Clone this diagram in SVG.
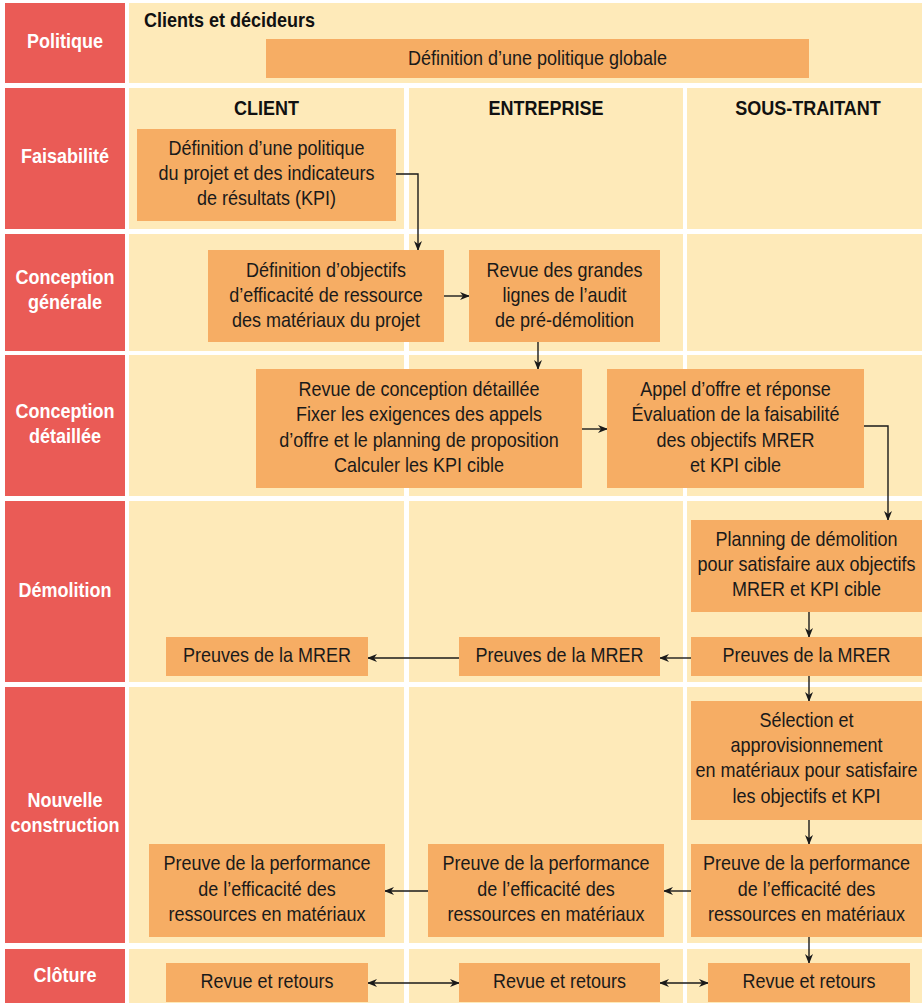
<svg xmlns="http://www.w3.org/2000/svg" width="922" height="1003" viewBox="0 0 922 1003">
<style>
.bg{fill:#ffffff}
.lab{fill:#EA5B56}
.lane{fill:#FEEAB9}
.box{fill:#F6AD64}
.lt{font-family:"Liberation Sans",Arial,sans-serif;font-weight:bold;font-size:20px;fill:#ffffff;text-anchor:middle}
.hd{font-family:"Liberation Sans",Arial,sans-serif;font-weight:bold;font-size:20px;fill:#111111;text-anchor:middle}
.t{font-family:"Liberation Sans",Arial,sans-serif;font-size:20px;fill:#1a1a1a;text-anchor:middle}
.c{fill:none;stroke:#1a1a1a;stroke-width:1.4}
</style>
<defs>
<marker id="ah" markerWidth="10" markerHeight="8" refX="9" refY="4" orient="auto-start-reverse" markerUnits="userSpaceOnUse">
<path d="M0,0 L10,4 L0,8 L3,4 z" fill="#1a1a1a"/>
</marker>
</defs>
<rect class="bg" x="0" y="0" width="922" height="1003"/>

<g id="lanes">
<rect class="lab" x="5" y="3" width="120" height="80"/>
<rect class="lab" x="5" y="88" width="120" height="141"/>
<rect class="lab" x="5" y="234" width="120" height="117"/>
<rect class="lab" x="5" y="355" width="120" height="141"/>
<rect class="lab" x="5" y="501" width="120" height="181"/>
<rect class="lab" x="5" y="687" width="120" height="256"/>
<rect class="lab" x="5" y="949" width="120" height="54"/>
<rect class="lane" x="129" y="3" width="793" height="80"/>
<rect class="lane" x="129" y="88" width="275" height="141"/>
<rect class="lane" x="409" y="88" width="274" height="141"/>
<rect class="lane" x="687" y="88" width="235" height="141"/>
<rect class="lane" x="129" y="234" width="275" height="117"/>
<rect class="lane" x="409" y="234" width="274" height="117"/>
<rect class="lane" x="687" y="234" width="235" height="117"/>
<rect class="lane" x="129" y="355" width="275" height="141"/>
<rect class="lane" x="409" y="355" width="274" height="141"/>
<rect class="lane" x="687" y="355" width="235" height="141"/>
<rect class="lane" x="129" y="501" width="275" height="181"/>
<rect class="lane" x="409" y="501" width="274" height="181"/>
<rect class="lane" x="687" y="501" width="235" height="181"/>
<rect class="lane" x="129" y="687" width="275" height="256"/>
<rect class="lane" x="409" y="687" width="274" height="256"/>
<rect class="lane" x="687" y="687" width="235" height="256"/>
<rect class="lane" x="129" y="949" width="275" height="54"/>
<rect class="lane" x="409" y="949" width="274" height="54"/>
<rect class="lane" x="687" y="949" width="235" height="54"/>
<text class="lt" transform="matrix(.9 0 0 1 65 0)" y="48">Politique</text>
<text class="lt" transform="matrix(.9 0 0 1 65 0)" y="163">Faisabilité</text>
<text class="lt" transform="matrix(.9 0 0 1 65 0)" y="284">Conception</text>
<text class="lt" transform="matrix(.9 0 0 1 65 0)" y="309">générale</text>
<text class="lt" transform="matrix(.9 0 0 1 65 0)" y="418">Conception</text>
<text class="lt" transform="matrix(.9 0 0 1 65 0)" y="443">détaillée</text>
<text class="lt" transform="matrix(.9 0 0 1 65 0)" y="597">Démolition</text>
<text class="lt" transform="matrix(.9 0 0 1 65 0)" y="807">Nouvelle</text>
<text class="lt" transform="matrix(.9 0 0 1 65 0)" y="832">construction</text>
<text class="lt" transform="matrix(.9 0 0 1 65 0)" y="982">Clôture</text>
<text class="hd" transform="matrix(.9 0 0 1 144 0)" y="27" style="text-anchor:start">Clients et décideurs</text>
<text class="hd" transform="matrix(.9 0 0 1 266.5 0)" y="115">CLIENT</text>
<text class="hd" transform="matrix(.9 0 0 1 546 0)" y="115">ENTREPRISE</text>
<text class="hd" transform="matrix(.9 0 0 1 808 0)" y="115">SOUS-TRAITANT</text>
</g>

<g id="connectors">
<polyline class="c" points="396,174 418,174 418,250" marker-end="url(#ah)"/>
<line class="c" x1="444" y1="296" x2="469" y2="296" marker-end="url(#ah)"/>
<line class="c" x1="538" y1="342" x2="538" y2="369" marker-end="url(#ah)"/>
<line class="c" x1="582" y1="429" x2="607" y2="429" marker-end="url(#ah)"/>
<polyline class="c" points="864,426 888,426 888,520" marker-end="url(#ah)"/>
<line class="c" x1="809" y1="612" x2="809" y2="637" marker-end="url(#ah)"/>
<line class="c" x1="691" y1="658" x2="660" y2="658" marker-end="url(#ah)"/>
<line class="c" x1="459" y1="658" x2="368" y2="658" marker-end="url(#ah)"/>
<line class="c" x1="809" y1="676" x2="809" y2="701" marker-end="url(#ah)"/>
<line class="c" x1="809" y1="820" x2="809" y2="844" marker-end="url(#ah)"/>
<line class="c" x1="691" y1="891" x2="664" y2="891" marker-end="url(#ah)"/>
<line class="c" x1="428" y1="891" x2="385" y2="891" marker-end="url(#ah)"/>
<line class="c" x1="809" y1="937" x2="809" y2="963" marker-end="url(#ah)"/>
<line class="c" x1="368" y1="983" x2="459" y2="983" marker-start="url(#ah)" marker-end="url(#ah)"/>
<line class="c" x1="660" y1="983" x2="708" y2="983" marker-start="url(#ah)" marker-end="url(#ah)"/>
</g>

<g id="n-politique-globale">
<rect class="box" x="266" y="39" width="543" height="39"/>
<text class="t" transform="matrix(.9 0 0 1 537.5 0)" y="65">Définition d’une politique globale</text>
</g>
<g id="n-faisabilite-client">
<rect class="box" x="137" y="129" width="259" height="92"/>
<text class="t" transform="matrix(.9 0 0 1 266.5 0)" y="155">Définition d’une politique</text>
<text class="t" transform="matrix(.9 0 0 1 266.5 0)" y="180">du projet et des indicateurs</text>
<text class="t" transform="matrix(.9 0 0 1 266.5 0)" y="205">de résultats (KPI)</text>
</g>
<g id="n-objectifs">
<rect class="box" x="208" y="250" width="236" height="92"/>
<text class="t" transform="matrix(.9 0 0 1 326 0)" y="277">Définition d’objectifs</text>
<text class="t" transform="matrix(.9 0 0 1 326 0)" y="302">d’efficacité de ressource</text>
<text class="t" transform="matrix(.9 0 0 1 326 0)" y="327">des matériaux du projet</text>
</g>
<g id="n-audit">
<rect class="box" x="469" y="250" width="191" height="92"/>
<text class="t" transform="matrix(.9 0 0 1 564.5 0)" y="277">Revue des grandes</text>
<text class="t" transform="matrix(.9 0 0 1 564.5 0)" y="302">lignes de l’audit</text>
<text class="t" transform="matrix(.9 0 0 1 564.5 0)" y="327">de pré-démolition</text>
</g>
<g id="n-conception-detaillee">
<rect class="box" x="256" y="369" width="326" height="119"/>
<text class="t" transform="matrix(.9 0 0 1 419 0)" y="396">Revue de conception détaillée</text>
<text class="t" transform="matrix(.9 0 0 1 419 0)" y="421">Fixer les exigences des appels</text>
<text class="t" transform="matrix(.9 0 0 1 419 0)" y="447">d’offre et le planning de proposition</text>
<text class="t" transform="matrix(.9 0 0 1 419 0)" y="472">Calculer les KPI cible</text>
</g>
<g id="n-appel-offre">
<rect class="box" x="607" y="369" width="257" height="119"/>
<text class="t" transform="matrix(.9 0 0 1 735.5 0)" y="396">Appel d’offre et réponse</text>
<text class="t" transform="matrix(.9 0 0 1 735.5 0)" y="421">Évaluation de la faisabilité</text>
<text class="t" transform="matrix(.9 0 0 1 735.5 0)" y="447">des objectifs MRER</text>
<text class="t" transform="matrix(.9 0 0 1 735.5 0)" y="472">et KPI cible</text>
</g>
<g id="n-planning">
<rect class="box" x="691" y="520" width="231" height="92"/>
<text class="t" transform="matrix(.9 0 0 1 806.5 0)" y="546">Planning de démolition</text>
<text class="t" transform="matrix(.9 0 0 1 806.5 0)" y="571">pour satisfaire aux objectifs</text>
<text class="t" transform="matrix(.9 0 0 1 806.5 0)" y="596">MRER et KPI cible</text>
</g>
<g id="n-preuves-st">
<rect class="box" x="691" y="637" width="231" height="39"/>
<text class="t" transform="matrix(.9 0 0 1 806.5 0)" y="662">Preuves de la MRER</text>
</g>
<g id="n-preuves-ent">
<rect class="box" x="459" y="637" width="201" height="39"/>
<text class="t" transform="matrix(.9 0 0 1 559.5 0)" y="662">Preuves de la MRER</text>
</g>
<g id="n-preuves-client">
<rect class="box" x="166" y="637" width="202" height="39"/>
<text class="t" transform="matrix(.9 0 0 1 267 0)" y="662">Preuves de la MRER</text>
</g>
<g id="n-selection">
<rect class="box" x="691" y="701" width="231" height="119"/>
<text class="t" transform="matrix(.9 0 0 1 806.5 0)" y="727">Sélection et</text>
<text class="t" transform="matrix(.9 0 0 1 806.5 0)" y="752">approvisionnement</text>
<text class="t" transform="matrix(.9 0 0 1 806.5 0)" y="777">en matériaux pour satisfaire</text>
<text class="t" transform="matrix(.9 0 0 1 806.5 0)" y="803">les objectifs et KPI</text>
</g>
<g id="n-perf-st">
<rect class="box" x="691" y="844" width="231" height="93"/>
<text class="t" transform="matrix(.9 0 0 1 806.5 0)" y="870">Preuve de la performance</text>
<text class="t" transform="matrix(.9 0 0 1 806.5 0)" y="896">de l’efficacité des</text>
<text class="t" transform="matrix(.9 0 0 1 806.5 0)" y="921">ressources en matériaux</text>
</g>
<g id="n-perf-ent">
<rect class="box" x="428" y="844" width="236" height="93"/>
<text class="t" transform="matrix(.9 0 0 1 546 0)" y="870">Preuve de la performance</text>
<text class="t" transform="matrix(.9 0 0 1 546 0)" y="896">de l’efficacité des</text>
<text class="t" transform="matrix(.9 0 0 1 546 0)" y="921">ressources en matériaux</text>
</g>
<g id="n-perf-client">
<rect class="box" x="149" y="844" width="236" height="93"/>
<text class="t" transform="matrix(.9 0 0 1 267 0)" y="870">Preuve de la performance</text>
<text class="t" transform="matrix(.9 0 0 1 267 0)" y="896">de l’efficacité des</text>
<text class="t" transform="matrix(.9 0 0 1 267 0)" y="921">ressources en matériaux</text>
</g>
<g id="n-revue-client">
<rect class="box" x="166" y="963" width="202" height="39"/>
<text class="t" transform="matrix(.9 0 0 1 267 0)" y="988">Revue et retours</text>
</g>
<g id="n-revue-ent">
<rect class="box" x="459" y="963" width="201" height="39"/>
<text class="t" transform="matrix(.9 0 0 1 559.5 0)" y="988">Revue et retours</text>
</g>
<g id="n-revue-st">
<rect class="box" x="708" y="963" width="202" height="39"/>
<text class="t" transform="matrix(.9 0 0 1 809 0)" y="988">Revue et retours</text>
</g>
</svg>
